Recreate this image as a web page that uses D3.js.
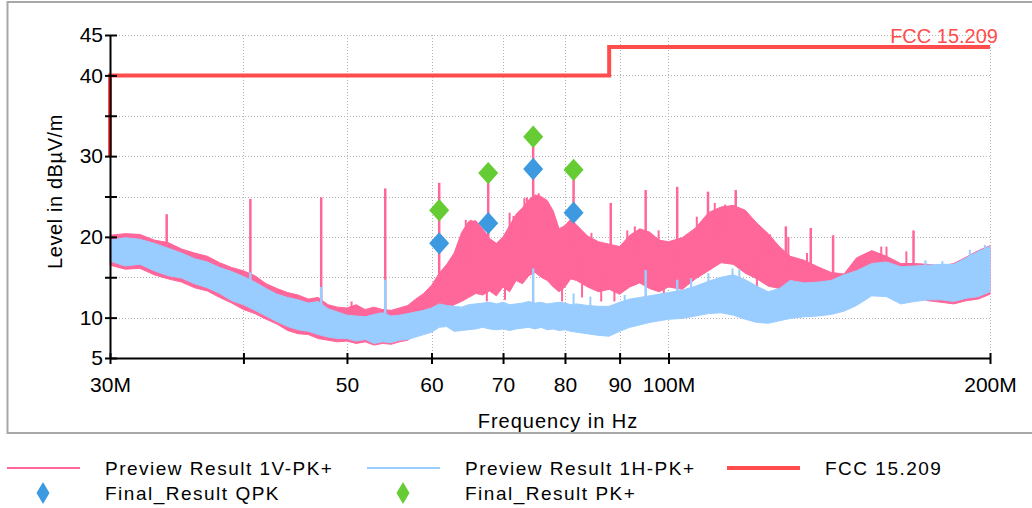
<!DOCTYPE html>
<html>
<head>
<meta charset="utf-8">
<script src="https://cdn.jsdelivr.net/npm/d3@7"></script>
<style>
  body { margin: 0; background: #fff; }
  svg { display: block; font-family: "Liberation Sans", Arial, sans-serif; }
</style>
</head>
<body>
<div id="chart"></div>
<script>
// frequency grid in MHz, shared by both preview traces
const freqs = [30, 31, 32, 33, 34, 35, 36, 37, 38, 39, 40, 41, 42, 43, 44, 45, 46, 47, 48, 49,
  50, 51, 52, 53, 54, 55, 56, 57, 58, 59, 60, 61, 62, 63, 64, 65, 66, 67, 68, 69,
  70, 71, 72, 73, 74, 75, 76, 77, 78, 79, 80, 81, 82, 84, 86, 88, 90, 92, 94, 96, 98,
  100, 103, 106, 109, 112, 115, 118, 121, 124, 127, 130, 134, 138, 142, 146, 150,
  155, 160, 165, 170, 175, 180, 185, 190, 195, 200]

// Preview Result 1V-PK+ (upper / lower edge of the noise band, dBuV/m)
const vHigh = [20.2, 20.4, 20.3, 19.6, 19.3, 18.5, 18.0, 17.6, 16.8, 16.2, 15.8, 15.2, 14.2, 13.6, 13.1, 12.8, 12.3, 12.5, 11.6, 11.3,
  11.2, 11.6, 11.0, 11.3, 11.0, 10.9, 11.2, 11.5, 12.3, 13.0, 14.0, 15.5, 16.6, 18.0, 20.5, 21.9, 22.0, 21.0, 19.8, 19.2,
  20.0, 21.4, 22.8, 23.6, 24.6, 25.2, 25.0, 24.5, 23.2, 21.0, 21.4, 22.2, 21.5, 20.1, 19.4, 19.1, 18.8, 20.2, 21.0, 20.6, 19.6,
  19.4, 19.9, 21.1, 23.0, 23.7, 23.9, 23.3, 21.7, 20.4, 18.8, 17.6, 17.1, 16.3, 15.6, 15.4, 17.4,
  18.3, 17.6, 16.7, 16.7, 16.6, 16.4, 16.7, 17.5, 18.3, 18.9]
const vLow = [16.5, 16.0, 16.1, 15.3, 14.8, 14.4, 13.7, 13.3, 12.5, 11.8, 11.0, 10.5, 9.8, 9.2, 8.4, 8.0, 7.9, 7.4, 7.2, 7.0,
  7.1, 6.8, 7.0, 6.6, 6.8, 6.7, 7.0, 7.2, 7.9, 8.6, 9.4, 10.2, 11.0, 11.6, 12.0, 12.5, 13.0, 12.8, 13.3, 12.7,
  13.8, 13.2, 14.6, 14.2, 15.2, 15.6, 15.0, 14.6, 13.8, 13.2, 13.8, 14.8, 14.6, 13.8, 13.2, 13.5, 12.9, 13.8, 14.3, 13.6, 13.2,
  13.8, 13.5, 14.8, 15.8, 16.8, 16.6, 15.5, 14.8, 13.9, 13.6, 13.2, 13.4, 12.8, 13.0, 13.3, 13.8,
  14.2, 14.1, 13.6, 12.6, 12.1, 11.9, 11.7, 12.1, 12.3, 12.9]

// Preview Result 1H-PK+
const hHigh = [19.6, 19.9, 19.7, 19.2, 18.6, 18.0, 17.3, 16.9, 16.2, 15.7, 15.1, 14.4, 13.6, 12.9, 12.5, 12.2, 11.8, 12.0, 11.1, 10.7,
  10.3, 10.2, 10.1, 10.4, 10.6, 10.2, 10.3, 10.5, 10.7, 10.9, 11.2, 11.7, 11.5, 11.4, 11.3, 11.6, 11.7, 11.8, 11.9, 11.7,
  11.9, 11.6, 11.7, 11.8, 12.0, 11.8, 11.9, 11.7, 11.8, 11.9, 11.8, 11.6, 11.7, 11.5, 11.4, 11.4, 11.9, 12.3, 12.5, 12.7, 12.9,
  13.1, 13.4, 13.9, 14.5, 15.0, 15.3, 14.7, 13.9, 13.2, 13.6, 14.6, 14.3, 14.4, 14.6, 15.3, 15.8,
  16.7, 16.9, 16.3, 16.4, 16.5, 16.6, 16.6, 17.4, 18.2, 18.8]
const hLow = [17.0, 16.4, 16.6, 15.8, 15.2, 14.9, 14.2, 13.7, 13.0, 12.1, 11.6, 10.9, 10.2, 9.5, 8.9, 8.5, 8.3, 7.9, 7.6, 7.4,
  7.4, 7.1, 7.3, 6.8, 7.0, 6.9, 7.2, 7.3, 7.6, 7.9, 8.2, 8.8, 8.9, 8.3, 8.4, 8.5, 8.6, 8.8, 8.6, 8.5,
  8.6, 8.4, 8.6, 8.7, 8.8, 8.6, 8.8, 8.5, 8.6, 8.4, 8.5, 8.3, 8.2, 8.0, 7.8, 7.7, 8.3, 8.8, 9.1, 9.4, 9.6,
  9.8, 9.9, 10.2, 10.5, 10.6, 10.3, 9.8, 9.4, 9.3, 9.6, 9.9, 10.1, 10.2, 10.4, 10.8, 11.5,
  12.7, 12.6, 11.7, 12.0, 12.2, 12.2, 12.0, 12.4, 12.6, 13.2]

// narrow peaks (and dips) sticking out of the bands: frequency (MHz), level
const vSpikeFreqs = [33.9, 40.6, 47.3, 54.3, 61.0, 67.8, 74.7, 81.5, 88.3, 95.2, 101.9, 108.9, 115.6, 128.8, 135.9, 142.6, 169.6]
const vSpikeLevels = [22.8, 24.7, 24.9, 26.0, 26.7, 27.9, 31.3, 28.3, 24.2, 25.8, 26.2, 25.6, 25.8, 21.3, 21.1, 20.2, 20.8]
const vMinorFreqs = [31.1, 31.8, 33.3, 35.1, 37.2, 38.1, 39.9, 41.4, 43.7, 44.7, 50.5, 52.7,
  64.6, 65.3, 71.0, 71.6, 73.3, 73.7, 75.6, 84.7, 91.5, 93.0, 97.9, 106.3, 110.5, 113.0, 118.4, 122.9, 124.5,
  129.5, 134.8, 149.6, 151.3, 158.2, 160.0, 167.0]
const vMinorLevels = [20.2, 20.0, 19.2, 18.2, 16.8, 16.1, 15.3, 14.0, 12.8, 12.2, 12.0, 11.2,
  22.1, 22.1, 23.0, 22.6, 24.8, 24.9, 25.4, 20.5, 20.8, 21.3, 20.8, 22.5, 24.2, 24.0, 22.5, 20.5, 20.3,
  20.0, 18.0, 17.1, 17.1, 18.8, 18.8, 18.2]
const vDipFreqs = [67.6, 70.3, 79.5, 83.0, 86.5, 89.0, 99.0, 121.0]
const vDipLevels = [12.0, 12.2, 12.0, 12.5, 12.0, 12.0, 12.8, 12.5]

const hSpikeFreqs = [40.6, 47.3, 54.3, 74.7, 95.2, 101.9]
const hSpikeLevels = [15.6, 13.8, 14.7, 16.1, 15.9, 14.7]
const hMinorFreqs = [81.5, 84.5, 91.0, 105.0, 109.0, 114.8, 116.5, 174.0, 180.5, 191.5, 195.6, 197.8]
const hMinorLevels = [13.0, 12.6, 12.8, 14.9, 15.5, 16.1, 16.0, 17.1, 17.0, 18.4, 18.4, 19.0]

// final measurements
const finalFreqs = [61.0, 67.8, 74.7, 81.5]
const qpkLevels = [19.2, 21.7, 28.4, 23.0]
const pkLevels = [23.3, 27.9, 32.4, 28.3]

// FCC 15.209 limit line
const limitFreqs = [30, 30, 88, 88, 200]
const limitLevels = [30, 40, 40, 43.5, 43.5]

const yTicks = [5, 10, 15, 20, 25, 30, 35, 40, 45]
const yTickLabels = ["5", "10", "", "20", "", "30", "", "40", "45"]
const xTicks = [30, 40, 50, 60, 70, 80, 90, 100, 200]
const xTickLabels = ["30M", "", "50", "60", "70", "80", "90", "100M", "200M"]

function drawChart() {

// 1. dimensions
  let dimensions = {
    width: 1032,
    height: 508,
    margin: { top: 35, right: 42, bottom: 150, left: 110 },
  }
  dimensions.boundedWidth = dimensions.width - dimensions.margin.left - dimensions.margin.right
  dimensions.boundedHeight = dimensions.height - dimensions.margin.top - dimensions.margin.bottom

  const pink = "#ff6699"
  const lightBlue = "#99ccff"
  const limitRed = "#ff4d4d"
  const qpkBlue = "#3d99e0"
  const pkGreen = "#66cc33"

// 2. canvas
  const wrapper = d3.select("#chart")
    .append("svg")
      .attr("width", dimensions.width)
      .attr("height", dimensions.height)

  wrapper.append("rect")
      .attr("x", 7.5)
      .attr("y", 2)
      .attr("width", 1040)
      .attr("height", 431)
      .attr("fill", "none")
      .attr("stroke", "#a8a8a8")
      .attr("stroke-width", 2)

  const bounds = wrapper.append("g")
      .attr("transform", `translate(${dimensions.margin.left},${dimensions.margin.top})`)

// 3. scales
  const xScale = d3.scaleLog()
    .domain([30, 200])
    .range([0, dimensions.boundedWidth])

  const yScale = d3.scaleLinear()
    .domain([5, 45])
    .range([dimensions.boundedHeight, 0])

// 4. grid
  const grid = bounds.append("g")
      .attr("stroke", "#b4b4b4")
      .attr("stroke-width", 1)
      .attr("stroke-dasharray", "1,2")

  grid.selectAll(".hgrid")
    .data(yTicks.slice(1))
    .join("line")
      .attr("x1", 0)
      .attr("x2", dimensions.boundedWidth)
      .attr("y1", d => Math.round(yScale(d)) + 0.5)
      .attr("y2", d => Math.round(yScale(d)) + 0.5)

  grid.selectAll(".vgrid")
    .data(xTicks.slice(1))
    .join("line")
      .attr("x1", d => Math.round(xScale(d)) + 0.5)
      .attr("x2", d => Math.round(xScale(d)) + 0.5)
      .attr("y1", 0)
      .attr("y2", dimensions.boundedHeight)

// 5. preview traces
  const areaGenerator = (hi, lo) => d3.area()
    .x((d, i) => xScale(freqs[i]))
    .y0((d, i) => yScale(lo[i]))
    .y1((d, i) => yScale(hi[i]))

  // middle of the band at any frequency, so spikes start inside it
  const bandMiddle = (hi, lo) => d3.scaleLog()
    .domain(freqs)
    .range(hi.map((h, i) => (h + lo[i]) / 2))

  function drawSpikes(middle, spikeFreqs, spikeLevels, color, width) {
    bounds.append("g")
      .selectAll("line")
      .data(spikeFreqs)
      .join("line")
        .attr("x1", d => xScale(d))
        .attr("x2", d => xScale(d))
        .attr("y1", (d, i) => yScale(spikeLevels[i]))
        .attr("y2", d => yScale(middle(d)))
        .attr("stroke", color)
        .attr("stroke-width", width)
  }

  function drawTrace(hi, lo, color) {
    bounds.append("path")
        .attr("d", areaGenerator(hi, lo)(freqs))
        .attr("fill", color)
        .attr("stroke", color)
        .attr("stroke-width", 1)
  }

  const vMiddle = bandMiddle(vHigh, vLow)
  drawTrace(vHigh, vLow, pink)
  drawSpikes(vMiddle, vMinorFreqs, vMinorLevels, pink, 2)
  drawSpikes(vMiddle, vDipFreqs, vDipLevels, pink, 2)
  drawSpikes(vMiddle, vSpikeFreqs, vSpikeLevels, pink, 2.5)

  const hMiddle = bandMiddle(hHigh, hLow)
  drawTrace(hHigh, hLow, lightBlue)
  drawSpikes(hMiddle, hMinorFreqs, hMinorLevels, lightBlue, 2)
  drawSpikes(hMiddle, hSpikeFreqs, hSpikeLevels, lightBlue, 2.5)

// 6. limit line
  const limitLine = d3.line()
    .x((d, i) => xScale(limitFreqs[i]))
    .y((d, i) => yScale(limitLevels[i]))

  bounds.append("path")
      .attr("d", limitLine(limitFreqs))
      .attr("fill", "none")
      .attr("stroke", limitRed)
      .attr("stroke-width", 4)

  bounds.append("text")
      .attr("x", 888)
      .attr("y", 8)
      .attr("text-anchor", "end")
      .attr("fill", limitRed)
      .style("font-size", "20px")
      .text("FCC 15.209")

// 7. final result markers
  const diamond = d3.symbol(d3.symbolSquare, 200)()

  bounds.append("g")
    .selectAll("path")
    .data(finalFreqs)
    .join("path")
      .attr("d", diamond)
      .attr("transform", (d, i) => `translate(${xScale(d)},${yScale(qpkLevels[i])}) scale(1,1.12) rotate(45)`)
      .attr("fill", qpkBlue)

  bounds.append("g")
    .selectAll("path")
    .data(finalFreqs)
    .join("path")
      .attr("d", diamond)
      .attr("transform", (d, i) => `translate(${xScale(d)},${yScale(pkLevels[i])}) scale(1,1.12) rotate(45)`)
      .attr("fill", pkGreen)

// 8. axes
  const yAxis = bounds.append("g")
    .call(d3.axisLeft(yScale)
      .tickValues(yTicks)
      .tickFormat((d, i) => yTickLabels[i])
      .tickSizeOuter(0))

  yAxis.select(".domain").attr("stroke", "#000").attr("stroke-width", 2)
  yAxis.selectAll(".tick line").attr("x1", -5).attr("x2", 7).attr("stroke-width", 2)
  yAxis.selectAll(".tick text")
      .attr("x", -7)
      .attr("fill", "#000")
      .style("font-size", "21px")
      .style("font-family", "'Liberation Sans', Arial, sans-serif")

  const xAxis = bounds.append("g")
      .attr("transform", `translate(0,${dimensions.boundedHeight})`)
    .call(d3.axisBottom(xScale)
      .tickValues(xTicks)
      .tickFormat((d, i) => xTickLabels[i])
      .tickSizeOuter(0))

  xAxis.select(".domain").attr("stroke", "#000").attr("stroke-width", 2)
  xAxis.selectAll(".tick line").attr("y1", -5).attr("y2", 6).attr("stroke-width", 2)
  xAxis.selectAll(".tick text")
      .attr("y", 19)
      .attr("fill", "#000")
      .style("font-size", "21px")
      .style("font-family", "'Liberation Sans', Arial, sans-serif")

  bounds.append("text")
      .attr("x", dimensions.boundedWidth / 2 + 8)
      .attr("y", dimensions.boundedHeight + 70)
      .attr("text-anchor", "middle")
      .attr("letter-spacing", 1)
      .style("font-size", "20px")
      .text("Frequency in Hz")

  bounds.append("text")
      .attr("transform", `translate(-48,${dimensions.boundedHeight / 2 - 5}) rotate(-90)`)
      .attr("text-anchor", "middle")
      .attr("letter-spacing", 0.6)
      .style("font-size", "20px")
      .text("Level in dBµV/m")

// 9. legend
  const legend = wrapper.append("g")
      .style("font-size", "19px")
      .attr("letter-spacing", 1.5)

  const lineItems = [
    { label: "Preview Result 1V-PK+", color: pink, width: 2, x: 7 },
    { label: "Preview Result 1H-PK+", color: lightBlue, width: 2, x: 367 },
    { label: "FCC 15.209", color: limitRed, width: 4, x: 727 },
  ]
  lineItems.forEach(item => {
    legend.append("line")
        .attr("x1", item.x)
        .attr("x2", item.x + 73)
        .attr("y1", 468)
        .attr("y2", 468)
        .attr("stroke", item.color)
        .attr("stroke-width", item.width)
    legend.append("text")
        .attr("x", item.x + 98)
        .attr("y", 475)
        .text(item.label)
  })

  const markerItems = [
    { label: "Final_Result QPK", color: qpkBlue, x: 7 },
    { label: "Final_Result PK+", color: pkGreen, x: 367 },
  ]
  markerItems.forEach(item => {
    legend.append("path")
        .attr("d", diamond)
        .attr("transform", `translate(${item.x + 36},493) scale(0.65,1.1) rotate(45)`)
        .attr("fill", item.color)
    legend.append("text")
        .attr("x", item.x + 98)
        .attr("y", 500)
        .text(item.label)
  })
}

drawChart()
</script>
</body>
</html>
